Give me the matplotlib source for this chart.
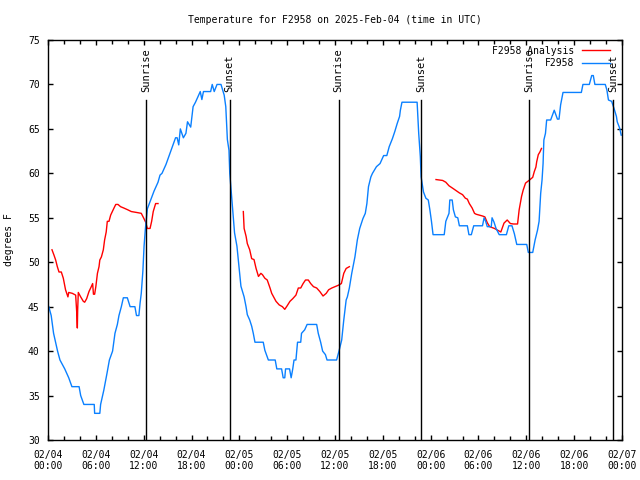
import matplotlib
matplotlib.use("Agg")
import matplotlib.pyplot as plt
from matplotlib.ticker import MultipleLocator, FixedLocator

# ---- data (hours since 2025-02-04 00:00 UTC) ----
blue_hours = [0.1, 0.4, 0.7, 1.2, 1.5, 2.1, 2.6, 3.0, 3.9, 4.1, 4.5, 5.8, 5.85, 6.5, 6.6, 7.0, 7.4, 7.7, 8.1, 8.4,
              8.7, 8.9, 9.2, 9.45, 9.95, 10.3, 10.9, 11.1, 11.4, 11.55, 11.7, 11.9, 12.05, 12.2, 12.46, 12.88, 13.3,
              13.8, 14.05, 14.3, 14.8, 15.2, 15.6, 16.0, 16.2, 16.4, 16.6, 16.98, 17.3, 17.5, 17.9, 18.2, 18.5, 18.8,
              19.1, 19.3, 19.5, 20.4, 20.6, 20.85, 21.2, 21.7, 22.1, 22.3, 22.5, 22.7, 22.8, 23.0, 23.2, 23.4, 23.7,
              23.96, 24.2, 24.6, 24.84, 25.0, 25.3, 25.55, 25.75, 25.96, 27.0, 27.2, 27.64, 28.5, 28.7, 29.3, 29.5,
              29.7, 29.8, 30.3, 30.5, 30.7, 30.86, 31.1, 31.3, 31.7, 31.8, 32.2, 32.5, 33.7, 33.9, 34.2, 34.45, 34.8,
              35.0, 36.2, 36.5, 36.84, 37.1, 37.4, 37.55, 37.8, 38.1, 38.5, 38.8, 39.1, 39.5, 39.8, 40.0, 40.2, 40.5,
              40.7, 41.2, 41.65, 42.1, 42.5, 42.8, 43.2, 43.5, 43.8, 44.1, 44.2, 44.4, 46.3, 46.5, 46.7, 46.8, 47.1,
              47.4, 47.7, 47.9, 48.1, 48.3, 49.7, 49.9, 50.3, 50.4, 50.7, 50.85, 51.1, 51.4, 51.6, 52.6, 52.8, 53.1,
              53.4, 54.5, 54.7, 54.9, 55.1, 55.6, 55.7, 55.95, 56.2, 56.6, 57.5, 57.8, 58.2, 58.5, 58.8, 60.05, 60.25,
              60.8, 61.1, 61.4, 61.6, 61.8, 61.97, 62.1, 62.2, 62.4, 62.55, 63.05, 63.3, 63.5, 63.7, 63.9, 64.1, 64.3,
              64.6, 66.9, 67.1, 67.9, 68.2, 68.4, 68.6, 69.9, 70.1, 70.3, 70.7, 71.0, 71.3, 71.4, 71.7, 71.9]
blue_temps = [45, 44, 42, 40, 39, 38, 37, 36, 36, 35, 34, 34, 33, 33, 34, 35.6, 37.5, 39, 40, 42,
              43, 44, 45, 46, 46, 45, 45, 44, 44, 45.4, 46.5, 49, 51.8, 53.6, 56, 57, 58,
              59, 59.8, 60, 61, 62, 63, 64, 64, 63.2, 65, 64, 64.5, 65.8, 65.2, 67.5, 68, 68.6,
              69.2, 68.3, 69.2, 69.2, 70, 69.2, 70, 70, 68.8, 67.5, 63.8, 62.6, 60, 57.8, 55.5, 53.3, 51.8,
              49.5, 47.3, 46.1, 45, 44.1, 43.5, 42.8, 42, 41, 41, 40.1, 39, 39, 38, 38, 37,
              37, 38, 38, 37, 38, 39, 39, 41, 41, 42, 42.4, 43, 43, 42, 41, 40, 39.6,
              39, 39, 40, 41.25, 43.5, 45.75, 46.1, 47.1, 48.75, 50.6, 52.5, 53.8, 54.9, 55.5, 56.6, 58.5, 59.6,
              60, 60.75, 61.1, 62, 62, 63, 63.9, 64.7, 65.6, 66.4, 67.1, 68, 68, 64.5, 61.9, 59.6, 57.9,
              57.2, 57, 55.9, 54.6, 53.1, 53.1, 54.6, 55.5, 57, 57, 55.9, 55.1, 55, 54.1, 54.1, 53.1, 53.1,
              54.1, 54.1, 55, 54.6, 54, 54, 55, 54.5, 53.8, 53.1, 53.1, 54.1, 54.1, 53.2, 52, 52, 51.1,
              51.1, 52.5, 53.6, 54.6, 57.75, 59.25, 61.1, 63.75, 64.5, 66, 66, 66.6, 67.1, 66.6, 66.1, 66.1, 67.7,
              69.1, 69.1, 70, 70, 71, 71, 70, 70, 69.4, 68.25, 68.1, 67.3, 66.4, 65.8, 65.1, 64.3]

red1_hours = [0.5, 0.75, 0.96, 1.17, 1.38, 1.67, 1.92, 2.2, 2.5, 2.6, 3.05, 3.47, 3.6, 3.68, 3.72, 3.8, 4.1,
              4.43, 4.6, 4.85, 5.14, 5.43, 5.6, 5.7, 5.85, 6.0, 6.2, 6.4, 6.5, 6.7, 6.94, 7.1, 7.3, 7.44, 7.65,
              7.86, 8.07, 8.28, 8.5, 8.78, 9.1, 9.5, 10.0, 10.45, 11.1, 11.7, 12.04, 12.25, 12.46, 12.8, 13.0,
              13.2, 13.5, 13.8]
red1_temps = [51.4, 50.8, 50.25, 49.5, 48.9, 48.9, 48.2, 46.9, 46.1, 46.6, 46.5, 46.3, 44.4, 42.6, 44.6, 46.6, 46.1,
              45.6, 45.5, 45.9, 46.7, 47.25, 47.6, 46.4, 46.4, 47.25, 48.75, 49.5, 50.25, 50.6, 51.4, 52.5, 53.4, 54.6, 54.6,
              55.3, 55.7, 56.1, 56.5, 56.5, 56.25, 56.1, 55.9, 55.7, 55.6, 55.5, 54.9, 54.5, 53.8, 53.8, 54.6,
              55.7, 56.6, 56.6]
red2_hours = [24.5, 24.6, 24.85, 25.0, 25.3, 25.55, 25.84, 26.1, 26.4, 26.7, 26.9, 27.2, 27.5, 27.85, 28.06, 28.3,
              28.6, 29.0, 29.4, 29.7, 30.0, 30.35, 30.7, 31.1, 31.4, 31.7, 32.0, 32.3, 32.65, 32.95, 33.3, 33.7,
              34.1, 34.5, 34.9, 35.2, 35.6, 36.0, 36.4, 36.8, 37.1, 37.4, 37.8]
red2_temps = [55.7, 53.8, 52.9, 52.1, 51.4, 50.4, 50.3, 49.3, 48.4, 48.75, 48.6, 48.2, 48.0, 47.1, 46.5, 46.1,
              45.6, 45.2, 45.0, 44.7, 45.1, 45.6, 45.9, 46.3, 47.1, 47.1, 47.6, 48.0, 48.0, 47.6, 47.25, 47.1,
              46.7, 46.2, 46.5, 46.9, 47.1, 47.25, 47.4, 47.6, 48.75, 49.3, 49.5]
red3_hours = [48.67, 49.5, 49.9, 50.3, 50.8, 51.2, 51.6, 52.0, 52.35, 52.6, 52.85, 53.2, 53.5, 53.7, 54.1, 54.5,
              54.8, 55.1, 55.4, 56.0, 56.5, 56.8, 57.2, 57.6, 58.0, 58.4, 58.9, 59.1, 59.4, 59.6, 59.9, 60.4,
              60.8, 61.0, 61.2, 61.3, 61.5, 61.7, 61.9]
red3_temps = [59.3, 59.2, 59.0, 58.6, 58.3, 58.05, 57.8, 57.6, 57.2, 57.1, 56.6, 56.1, 55.5, 55.4, 55.3, 55.2,
              55.1, 54.45, 54.0, 53.8, 53.55, 53.4, 54.4, 54.75, 54.35, 54.3, 54.3, 55.9, 57.4, 58.1, 58.9, 59.25,
              59.55, 60.2, 60.7, 61.3, 62.1, 62.4, 62.8]

sun_hours = [12.29, 22.79, 36.46, 46.79, 60.38, 70.87]
sun_labels = ["Sunrise", "Sunset", "Sunrise", "Sunset", "Sunrise", "Sunset"]

tick_hours = [0, 6, 12, 18, 24, 30, 36, 42, 48, 54, 60, 66, 72]
tick_labels = ["02/04\n00:00", "02/04\n06:00", "02/04\n12:00", "02/04\n18:00",
               "02/05\n00:00", "02/05\n06:00", "02/05\n12:00", "02/05\n18:00",
               "02/06\n00:00", "02/06\n06:00", "02/06\n12:00", "02/06\n18:00",
               "02/07\n00:00"]

RED = "#ff0000"
BLUE = "#0a80ff"
FONT = "DejaVu Sans Mono"
FS = 7

plt.rcParams["font.family"] = FONT
plt.rcParams["font.size"] = FS

fig = plt.figure(figsize=(6.4, 4.8), dpi=100)
ax = fig.add_axes([48/640, 40/480, 574/640, 400/480])

ax.plot(red1_hours, red1_temps, color=RED, lw=1, label="F2958 Analysis")
ax.plot(red2_hours, red2_temps, color=RED, lw=1)
ax.plot(red3_hours, red3_temps, color=RED, lw=1)
ax.plot(blue_hours, blue_temps, color=BLUE, lw=1, label="F2958")

xt = ax.get_xaxis_transform()
for h, lab in zip(sun_hours, sun_labels):
    ax.plot([h, h], [0, 0.85], transform=xt, color="black", lw=1)
    ax.text(h, 0.87, lab, transform=xt, rotation=90, ha="center", va="bottom",
            fontsize=7.5, family=FONT)

ax.set_xlim(0, 72)
ax.set_ylim(30, 75)
ax.xaxis.set_major_locator(FixedLocator(tick_hours))
ax.set_xticklabels(tick_labels)
ax.xaxis.set_minor_locator(MultipleLocator(2))
ax.yaxis.set_major_locator(MultipleLocator(5))
ax.tick_params(axis="both", which="both", direction="in", top=True, right=True,
               width=1, colors="black", labelsize=FS)
ax.tick_params(which="major", length=3.5)
ax.tick_params(which="minor", length=3)
ax.tick_params(axis="x", pad=7)
ax.tick_params(axis="y", pad=6)
for s in ax.spines.values():
    s.set_linewidth(1)
    s.set_color("black")

ax.set_ylabel("degrees F", fontsize=FS, labelpad=10)
ax.set_title("Temperature for F2958 on 2025-Feb-04 (time in UTC)", fontsize=FS, pad=12)

leg = ax.legend(loc="upper right", bbox_to_anchor=(1 - 6/574, 1), frameon=False,
                markerfirst=False, fontsize=FS,
                handlelength=2.9, handletextpad=0.8, borderpad=0.0, borderaxespad=0.6,
                labelspacing=0.25)
leg.set_zorder(10)

fig.savefig("out.png", dpi=100)
